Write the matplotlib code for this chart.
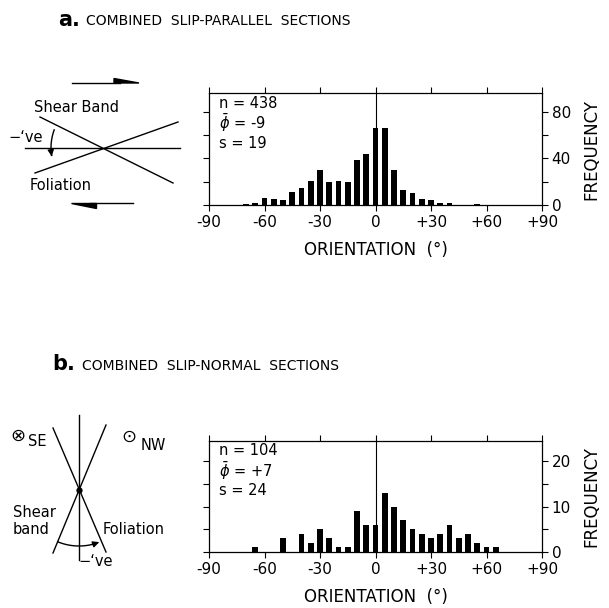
import numpy as np
import matplotlib.pyplot as plt

# histogram data (5 degree bins, bin centres in degrees)
angles_a = [-70, -65, -60, -55, -50, -45, -40, -35, -30, -25, -20, -15, -10,
            -5, 0, 5, 10, 15, 20, 25, 30, 35, 40, 45, 50, 55]
counts_a = [1, 2, 6, 5, 4, 11, 15, 21, 30, 20, 21, 20, 39,
            44, 66, 66, 30, 13, 10, 5, 4, 2, 2, 0, 0, 1]

angles_b = [-65, -60, -55, -50, -45, -40, -35, -30, -25, -20, -15, -10, -5,
            0, 5, 10, 15, 20, 25, 30, 35, 40, 45, 50, 55, 60, 65]
counts_b = [1, 0, 0, 3, 0, 4, 2, 5, 3, 1, 1, 9, 6,
            6, 13, 10, 7, 5, 4, 3, 4, 6, 3, 4, 2, 1, 1]

x_ticks = [-90, -60, -30, 0, 30, 60, 90]
x_labels = ["-90", "-60", "-30", "0", "+30", "+60", "+90"]

yticks_a = [0, 20, 40, 60, 80]
ylabels_a = ["0", "", "40", "", "80"]
yticks_b = [0, 5, 10, 15, 20]
ylabels_b = ["0", "", "10", "", "20"]

stats_a = ["n = 438", r"$\bar{\phi}$ = -9", "s = 19"]
stats_b = ["n = 104", r"$\bar{\phi}$ = +7", "s = 24"]

plt.rcParams["font.family"] = "DejaVu Sans"

W, H = 609, 608
fig = plt.figure(figsize=(W / 100, H / 100), dpi=100)


def hist_panel(left, top, right, bottom, angles, counts, ymax, yticks, ylabels, stats):
    ax = fig.add_axes([left / W, 1 - bottom / H, (right - left) / W, (bottom - top) / H])
    ax.bar(angles, counts, width=3.2, color="black", zorder=2)
    ax.axvline(0, color="black", lw=0.8, zorder=1)
    ax.set_xlim(-90, 90)
    ax.set_ylim(0, ymax)
    ax.set_xticks(x_ticks)
    ax.set_xticklabels(x_labels, fontsize=11)
    ax.set_yticks(yticks)
    ax.set_yticklabels(ylabels, fontsize=11)
    ax.tick_params(direction="out", length=4, width=0.8,
                   top=True, right=True, left=True, bottom=True,
                   labelleft=False, labelright=True, pad=3)
    for sp in ax.spines.values():
        sp.set_linewidth(0.9)
    ax.yaxis.set_label_position("right")
    ax.set_ylabel("FREQUENCY", fontsize=12, labelpad=8)
    ax.set_xlabel("ORIENTATION  (°)", fontsize=12, labelpad=8)
    for i, s in enumerate(stats):
        ax.text(0.03, 0.91 - i * 0.18, s, transform=ax.transAxes,
                fontsize=10.5, va="center")
    return ax


hist_panel(209, 93, 542, 205, angles_a, counts_a, 96, yticks_a, ylabels_a, stats_a)
hist_panel(209, 441, 542, 552, angles_b, counts_b, 24.4, yticks_b, ylabels_b, stats_b)

# overlay in pixel coordinates for titles and sketches
axd = fig.add_axes([0, 0, 1, 1])
axd.set_xlim(0, W)
axd.set_ylim(H, 0)
axd.axis("off")

axd.text(58, 20, "a.", fontsize=15, fontweight="bold", va="center")
axd.text(86, 21, "COMBINED  SLIP-PARALLEL  SECTIONS", fontsize=10, va="center")
axd.text(52, 364, "b.", fontsize=15, fontweight="bold", va="center")
axd.text(82, 366, "COMBINED  SLIP-NORMAL  SECTIONS", fontsize=10, va="center")

lk = dict(color="black", lw=1.0)

# sketch a: slip-parallel
axd.plot([25, 180], [148, 148], **lk)
axd.plot([40, 173], [117, 183], **lk)
axd.plot([35, 178], [173, 122], **lk)
axd.plot([72, 120], [83, 83], **lk)
axd.fill([114, 139, 114], [78.5, 83, 83], color="black")
axd.plot([90, 133], [203, 203], **lk)
axd.fill([71, 96, 96], [203, 203, 208], color="black")
cx, cy, r = 104, 148, 53
t = np.radians(np.linspace(200, 172, 30))
axd.plot(cx + r * np.cos(t), cy + r * np.sin(t), **lk)
axd.annotate("", xy=(cx + r * np.cos(np.radians(168)), cy + r * np.sin(np.radians(168))),
             xytext=(cx + r * np.cos(np.radians(175)), cy + r * np.sin(np.radians(175))),
             arrowprops=dict(arrowstyle="-|>", color="black", lw=1.0, mutation_scale=9))
axd.text(34, 107, "Shear Band", fontsize=10.5, va="center")
axd.text(8, 137, "\u2212\u2018ve", fontsize=10.5, va="center")
axd.text(30, 186, "Foliation", fontsize=10.5, va="center")

# sketch b: slip-normal
axd.plot([79, 79], [415, 560], **lk)
axd.plot([53, 106], [428, 552], **lk)
axd.plot([106, 53], [425, 553], **lk)
axd.plot([79], [490], "o", color="black", ms=3.5)
cx, cy, r = 79, 490, 56
t = np.radians(np.linspace(112, 74, 30))
axd.plot(cx + r * np.cos(t), cy + r * np.sin(t), **lk)
axd.annotate("", xy=(cx + r * np.cos(np.radians(66)), cy + r * np.sin(np.radians(66))),
             xytext=(cx + r * np.cos(np.radians(74)), cy + r * np.sin(np.radians(74))),
             arrowprops=dict(arrowstyle="-|>", color="black", lw=1.0, mutation_scale=9))
axd.text(18, 436, "\u2297", fontsize=13, ha="center", va="center")
axd.text(28, 442, "SE", fontsize=10.5, va="center")
axd.text(129, 437, "\u2299", fontsize=13, ha="center", va="center")
axd.text(141, 446, "NW", fontsize=10.5, va="center")
axd.text(13, 521, "Shear\nband", fontsize=10.5, va="center", linespacing=1.2)
axd.text(103, 529, "Foliation", fontsize=10.5, va="center")
axd.text(78, 561, "\u2212\u2018ve", fontsize=10.5, va="center")

fig.savefig("out.png", dpi=100)
